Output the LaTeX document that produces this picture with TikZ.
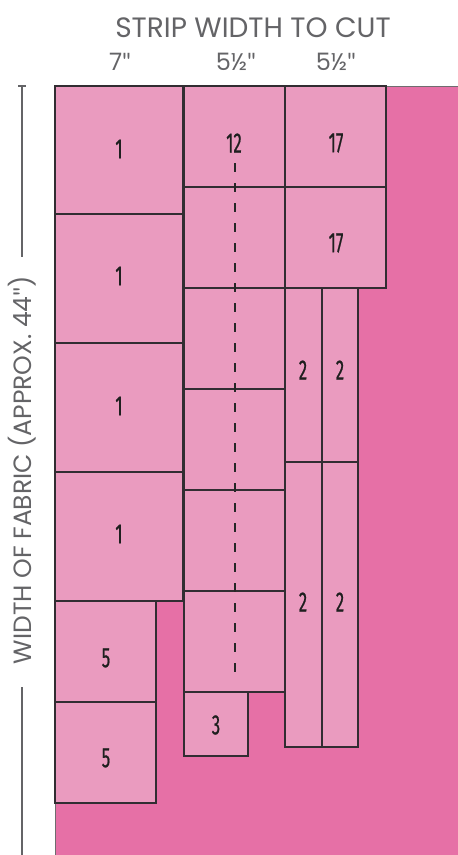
\documentclass[tikz,border=0pt]{standalone}
\usepackage{fontspec}
\setmainfont{Poppins}
\newfontfamily\numfont[FakeStretch=0.6,FakeBold=0.6]{Fira Sans}
\newfontfamily\qfont{Lato}
\definecolor{lightpink}{RGB}{234,155,191}
\definecolor{darkpink}{RGB}{230,112,166}
\definecolor{edgegray}{RGB}{50,45,50}
\definecolor{txtgray}{RGB}{100,100,103}
\newcommand{\inchmark}{{\qfont"}}
\begin{document}
\begin{tikzpicture}[x=1pt,y=-1pt,
  piece/.style={draw=edgegray, fill=lightpink, line width=1.2pt, inner sep=0pt, outer sep=0pt, anchor=north west},
  num/.style={font=\numfont\fontsize{28}{28}\selectfont, text=black!88, inner sep=0pt},
  head/.style={font=\fontsize{28}{28}\selectfont, text=txtgray, inner sep=0pt},
  sub/.style={font=\fontsize{24}{24}\selectfont, text=txtgray, inner sep=0pt},
  axis/.style={draw=txtgray, line width=1.3pt},
  cutline/.style={draw=black!85, line width=2.2pt, dash pattern=on 8.5pt off 11.5pt}]
\useasboundingbox (0,0) rectangle (458,855);
% fabric background
\fill[darkpink] (55,86) rectangle (462,860);
\draw[edgegray!70, line width=1pt] (55,860) -- (55,86) -- (462,86);
% column 1
\node[piece, minimum width=128, minimum height=128] (a1) at (55,86) {};
\node[piece, minimum width=128, minimum height=129] (a2) at (55,214) {};
\node[piece, minimum width=128, minimum height=129] (a3) at (55,343) {};
\node[piece, minimum width=128, minimum height=129] (a4) at (55,472) {};
\node[piece, minimum width=101, minimum height=101] (a5) at (55,601) {};
\node[piece, minimum width=101, minimum height=101] (a6) at (55,702) {};
% column 2
\node[piece, minimum width=101, minimum height=101] (b1) at (184,86) {};
\node[piece, minimum width=101, minimum height=101] (b2) at (184,187) {};
\node[piece, minimum width=101, minimum height=101] (b3) at (184,288) {};
\node[piece, minimum width=101, minimum height=101] (b4) at (184,389) {};
\node[piece, minimum width=101, minimum height=101] (b5) at (184,490) {};
\node[piece, minimum width=101, minimum height=101] (b6) at (184,591) {};
\node[piece, minimum width=64, minimum height=64] (b7) at (184,692) {};
% column 3
\node[piece, minimum width=101, minimum height=101] (c1) at (285,86) {};
\node[piece, minimum width=101, minimum height=101] (c2) at (285,187) {};
\node[piece, minimum width=37, minimum height=174] (c3) at (285,288) {};
\node[piece, minimum width=36, minimum height=174] (c4) at (322,288) {};
\node[piece, minimum width=37, minimum height=285] (c5) at (285,462) {};
\node[piece, minimum width=36, minimum height=285] (c6) at (322,462) {};
% dashed cut line
\coordinate (cutA) at (235,163);
\coordinate (cutB) at (235,682);
\draw[cutline] (cutA) -- (cutB);
% numbers
\node[num] (n1) at (119,149) {1};
\node[num] (n2) at (119,276) {1};
\node[num] (n3) at (119,406) {1};
\node[num] (n4) at (119,534) {1};
\node[num] (n5) at (106,658) {5};
\node[num] (n6) at (106,758) {5};
\node[num] (n7) at (234,143) {12};
\node[num] (n8) at (216,725) {3};
\node[num] (n9) at (336,143) {17};
\node[num] (n10) at (336,243) {17};
\node[num] (n11) at (303,370) {2};
\node[num] (n12) at (340,370) {2};
\node[num] (n13) at (303,602) {2};
\node[num] (n14) at (340,602) {2};
% headings
\node[head, anchor=base] (title) at (253,37) {STRIP WIDTH TO CUT};
\node[sub, anchor=base] (w1) at (120,70) {7\inchmark};
\node[sub, anchor=base] (w2) at (236,70) {5½\inchmark};
\node[sub, anchor=base] (w3) at (336,70) {5½\inchmark};
% side axis
\node[head, font=\fontsize{25}{25}\selectfont, rotate=90] (side) at (22,470) {WIDTH OF FABRIC (APPROX. 44\inchmark)};
\coordinate (axtop) at (22,86);
\coordinate (axbot) at (22,855);
\draw[axis] (axtop) -- (22,257);
\draw[axis] (18,86) -- (26,86);
\draw[axis] (22,687) -- (axbot);
\end{tikzpicture}
\end{document}
